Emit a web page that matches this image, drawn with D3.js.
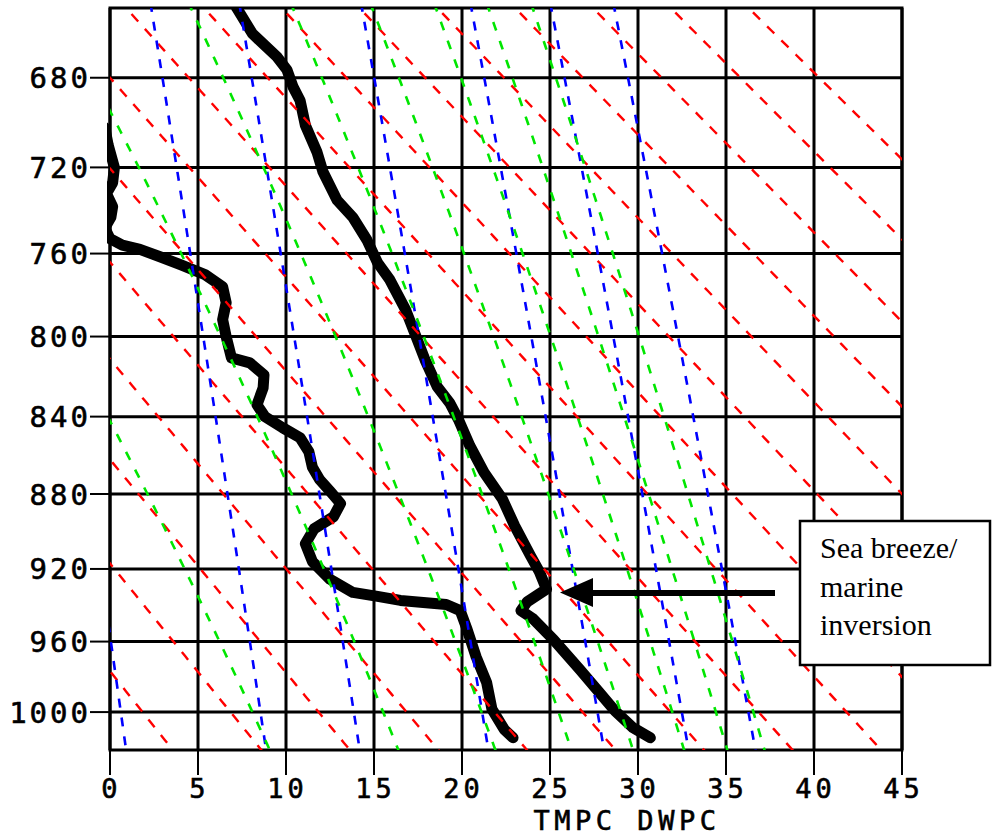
<!DOCTYPE html>
<html><head><meta charset="utf-8">
<script src="https://cdn.jsdelivr.net/npm/d3@7"></script>
<style>html,body{margin:0;padding:0;background:#fff;} svg{display:block;}</style>
</head><body>
<svg id="chart" width="992" height="835"></svg>
<script>
// ---------------- data ----------------
const pressureTicks = [680, 720, 760, 800, 840, 880, 920, 960, 1000];
const tempTicks = [0, 5, 10, 15, 20, 25, 30, 35, 40, 45];
const xAxisTitle = "TMPC DWPC";

// temperature sounding (TMPC)
const tmpcP = [646, 650, 661, 671, 676.5, 684, 690, 701, 713, 722, 735, 743, 753.6, 764.3, 772.5, 787, 798, 811.5, 825, 833, 841.5, 855, 868.7, 882.7, 897, 913, 921.6, 931, 938, 942.8, 947, 958.9, 975.8, 988.7, 999.4, 1008.9, 1014.9];
const tmpcT = [7.0, 7.2, 8.1, 9.5, 10.05, 10.4, 10.8, 11.1, 11.76, 12.1, 12.9, 13.8, 14.6, 15.2, 15.9, 16.8, 17.3, 17.9, 18.6, 19.3, 19.8, 20.45, 21.25, 22.3, 23.0, 23.9, 24.4, 24.8, 23.7, 23.35, 24.0, 25.2, 26.7, 27.8, 28.7, 29.7, 30.7];

// dewpoint sounding (DWPC)
const dwpcP = [702, 710, 720, 727, 732, 738, 743, 748, 753, 756, 758, 761.5, 765.3, 770, 775.8, 783.5, 791.7, 800, 810.5, 813, 819, 825.5, 834, 840, 845.6, 850.8, 858, 866, 872.3, 878.5, 885, 892, 898.4, 906.4, 916, 925.6, 932.8, 935, 937.2, 938.3, 939.4, 942.8, 953.5, 968.5, 983.1, 998.3, 1010, 1014.8];
const dwpcT = [-0.3, -0.1, 0.25, 0.15, -0.2, 0.15, 0.05, -0.3, 0.0, 0.7, 1.7, 2.84, 4.0, 5.4, 6.4, 6.6, 6.4, 6.6, 6.9, 7.95, 8.75, 8.7, 8.35, 8.8, 9.8, 10.8, 11.3, 11.5, 11.9, 12.5, 13.1, 12.7, 11.6, 11.1, 11.5, 12.5, 13.8, 15.2, 16.5, 17.8, 19.1, 19.9, 20.3, 20.8, 21.4, 21.7, 22.4, 22.9];

// background isopleths
const dryAdiabatTheta = [275, 280, 285, 290, 295, 300, 305, 310, 315, 320, 325, 330, 335, 340, 345, 350]; // K
const moistAdiabatThetaE = [300, 320, 340, 360, 380, 400, 420, 440]; // K
const mixingRatios = [4, 7, 10, 16, 24, 32, 40]; // g/kg

const annotationLines = ["Sea breeze/", "marine", "inversion"];

// ---------------- scales ----------------
const svg = d3.select("#chart");
const x = d3.scaleLinear().domain([0, 45]).range([110, 902]);
const y = d3.scalePow().exponent(0.286).domain([650, 1022]).range([8, 750]);
const pL = x(0), pR = x(45), pT = y(650), pB = y(1022);

svg.append("rect").attr("width", 992).attr("height", 835).attr("fill", "#fff");

const defs = svg.append("defs");
defs.append("clipPath").attr("id", "plot").append("rect")
  .attr("x", pL).attr("y", pT).attr("width", pR - pL).attr("height", pB - pT);
defs.append("clipPath").attr("id", "plotTrace").append("rect")
  .attr("x", pL - 3).attr("y", pT).attr("width", pR - pL + 3).attr("height", pB - pT);

// ---------------- thermodynamics ----------------
function esat(tc) { return 6.112 * Math.exp(17.67 * tc / (tc + 243.5)); }
function thetaE(tc, p) {
  const tk = tc + 273.15, e = esat(tc), r = 622 * e / (p - e);
  return tk * Math.pow(1000 / p, 0.2854 * (1 - 0.00028 * r)) *
    Math.exp((3.376 / tk - 0.00254) * r * (1 + 0.00081 * r));
}
function tOnThetaE(te, p) {
  let lo = -80, hi = 60;
  for (let i = 0; i < 50; i++) {
    const mid = (lo + hi) / 2;
    if (thetaE(mid, p) < te) lo = mid; else hi = mid;
  }
  return (lo + hi) / 2;
}
function tOnMixing(w, p) {
  const e = w * p / (622 + w), l = Math.log(e / 6.112);
  return 243.5 * l / (17.67 - l);
}
function tOnTheta(th, p) { return th * Math.pow(p / 1000, 0.286) - 273.15; }

const pSamples = d3.range(640, 1032, 2);
const line = d3.line().x(d => x(d[0])).y(d => y(d[1]));

// ---------------- grid ----------------
const grid = svg.append("g");
grid.selectAll(".hg").data(pressureTicks).join("line")
  .attr("x1", pL).attr("x2", pR).attr("y1", d => y(d)).attr("y2", d => y(d))
  .attr("stroke", "#000").attr("stroke-width", 3);
grid.selectAll(".ht").data(pressureTicks).join("line")
  .attr("x1", pL - 20).attr("x2", pL).attr("y1", d => y(d)).attr("y2", d => y(d))
  .attr("stroke", "#000").attr("stroke-width", 2);
grid.selectAll(".vg").data(tempTicks).join("line")
  .attr("x1", d => x(d)).attr("x2", d => x(d)).attr("y1", pT).attr("y2", pB)
  .attr("stroke", "#000").attr("stroke-width", 3);
grid.selectAll(".vt").data(tempTicks).join("line")
  .attr("x1", d => x(d)).attr("x2", d => x(d)).attr("y1", pB).attr("y2", pB + 25)
  .attr("stroke", "#000").attr("stroke-width", 2);
grid.append("rect").attr("x", pL).attr("y", pT).attr("width", pR - pL).attr("height", pB - pT)
  .attr("fill", "none").attr("stroke", "#000").attr("stroke-width", 3);

// ---------------- soundings ----------------
const traces = svg.append("g").attr("clip-path", "url(#plotTrace)");
const tmpc = tmpcP.map((p, i) => [tmpcT[i], p]);
const dwpc = dwpcP.map((p, i) => [dwpcT[i], p]);
[tmpc, dwpc].forEach(s => {
  traces.append("path").attr("d", line(s)).attr("fill", "none")
    .attr("stroke", "#000").attr("stroke-width", 11)
    .attr("stroke-linejoin", "round").attr("stroke-linecap", "round");
});

// ---------------- isopleths ----------------
const iso = svg.append("g").attr("clip-path", "url(#plot)");
dryAdiabatTheta.forEach(th => {
  iso.append("path").attr("d", line(pSamples.map(p => [tOnTheta(th, p), p])))
    .attr("fill", "none").attr("stroke", "#ff0000").attr("stroke-width", 2.4)
    .attr("stroke-dasharray", "10,10");
});
mixingRatios.forEach(w => {
  iso.append("path").attr("d", line(pSamples.map(p => [tOnMixing(w, p), p])))
    .attr("fill", "none").attr("stroke", "#0000ff").attr("stroke-width", 2.6)
    .attr("stroke-dasharray", "9,10");
});
moistAdiabatThetaE.forEach(te => {
  iso.append("path").attr("d", line(pSamples.map(p => [tOnThetaE(te, p), p])))
    .attr("fill", "none").attr("stroke", "#00e600").attr("stroke-width", 2.6)
    .attr("stroke-dasharray", "9,11");
});

// ---------------- labels ----------------
const labelFont = "'DejaVu Sans Mono', monospace";
svg.append("g").selectAll("text").data(pressureTicks).join("text")
  .attr("x", pL - 19).attr("y", d => y(d) + 10.5)
  .attr("text-anchor", "end").attr("font-family", labelFont).attr("font-size", 29)
  .attr("letter-spacing", 3).attr("stroke", "#000").attr("stroke-width", 0.6).text(d => d);
svg.append("g").selectAll("text").data(tempTicks).join("text")
  .attr("x", d => x(d) + 1.5).attr("y", 798)
  .attr("text-anchor", "middle").attr("font-family", labelFont).attr("font-size", 27)
  .attr("letter-spacing", 4).attr("stroke", "#000").attr("stroke-width", 0.6).text(d => d);
svg.append("text").attr("x", 627).attr("y", 830).attr("text-anchor", "middle")
  .attr("font-family", labelFont).attr("font-size", 27).attr("letter-spacing", 4.5)
  .attr("stroke", "#000").attr("stroke-width", 0.6).text(xAxisTitle);

// ---------------- annotation ----------------
const ann = svg.append("g");
ann.append("rect").attr("x", 800).attr("y", 521).attr("width", 190).attr("height", 144)
  .attr("fill", "#fff").attr("stroke", "#000").attr("stroke-width", 2.5);
ann.selectAll("text").data(annotationLines).join("text")
  .attr("x", 820).attr("y", (d, i) => 558 + i * 38.5)
  .attr("font-family", "'Liberation Serif', 'Times New Roman', serif").attr("font-size", 30)
  .attr("fill", "#000").text(d => d);
ann.append("line").attr("x1", 588).attr("x2", 775).attr("y1", 593).attr("y2", 593)
  .attr("stroke", "#000").attr("stroke-width", 6);
ann.append("path").attr("d", "M560,592.5 L593,578 L593,607 Z").attr("fill", "#000");
</script>
</body></html>
